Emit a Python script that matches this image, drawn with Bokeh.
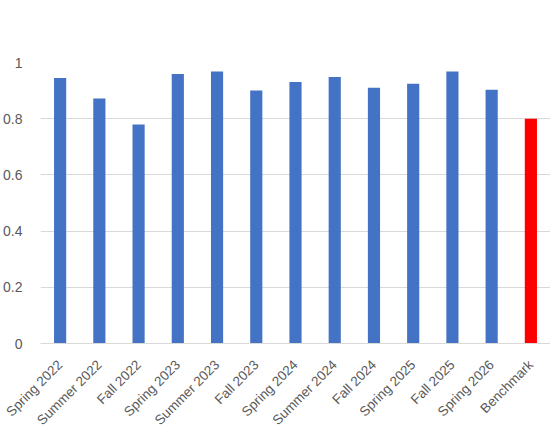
from bokeh.plotting import figure
from bokeh.models import Range1d, FactorRange, ColumnDataSource, FixedTicker
from bokeh.embed import file_html
from bokeh.resources import INLINE
import math

categories = ["Spring 2022", "Summer 2022", "Fall 2022", "Spring 2023", "Summer 2023",
              "Fall 2023", "Spring 2024", "Summer 2024", "Fall 2024", "Spring 2025",
              "Fall 2025", "Spring 2026", "Benchmark"]
values = [0.945, 0.872, 0.779, 0.959, 0.968, 0.900, 0.931, 0.948, 0.910, 0.924,
          0.968, 0.903, 0.800]
bar_colors = ["#4472C4"] * 12 + ["#FF0000"]
y_ticks = [0, 0.2, 0.4, 0.6, 0.8, 1]

src = ColumnDataSource(dict(cat=categories, val=values, col=bar_colors))

p = figure(x_range=FactorRange(*categories, range_padding=0), y_range=Range1d(0, 1),
           frame_width=510, frame_height=281, output_backend="svg", toolbar_location=None,
           min_border_left=34, min_border_right=0, min_border_top=62, min_border_bottom=80)
p.x_range.factor_padding = 0
p.vbar(x="cat", top="val", width=0.31, fill_color="col", line_color=None, source=src)

p.outline_line_color = None
p.xgrid.grid_line_color = None
p.ygrid.grid_line_color = "#d9d9d9"
p.ygrid.grid_line_width = 1
p.yaxis.ticker = FixedTicker(ticks=y_ticks)
p.yaxis.axis_line_color = None
p.yaxis.major_tick_line_color = None
p.yaxis.minor_tick_line_color = None
p.yaxis.major_label_text_font = "Liberation Sans"
p.yaxis.major_label_text_font_size = "14px"
p.yaxis.major_label_text_color = "#595959"
p.yaxis.major_label_standoff = 12
p.yaxis.formatter.use_scientific = False

p.xaxis.axis_line_color = "#d9d9d9"
p.xaxis.major_tick_line_color = None
p.xaxis.minor_tick_line_color = None
p.xaxis.major_label_orientation = math.pi / 4
p.xaxis.major_label_text_font = "Liberation Sans"
p.xaxis.major_label_text_font_size = "13.5px"
p.xaxis.major_label_text_color = "#595959"
p.xaxis.major_label_standoff = 13

open("out.html", "w").write(file_html(p, INLINE))
